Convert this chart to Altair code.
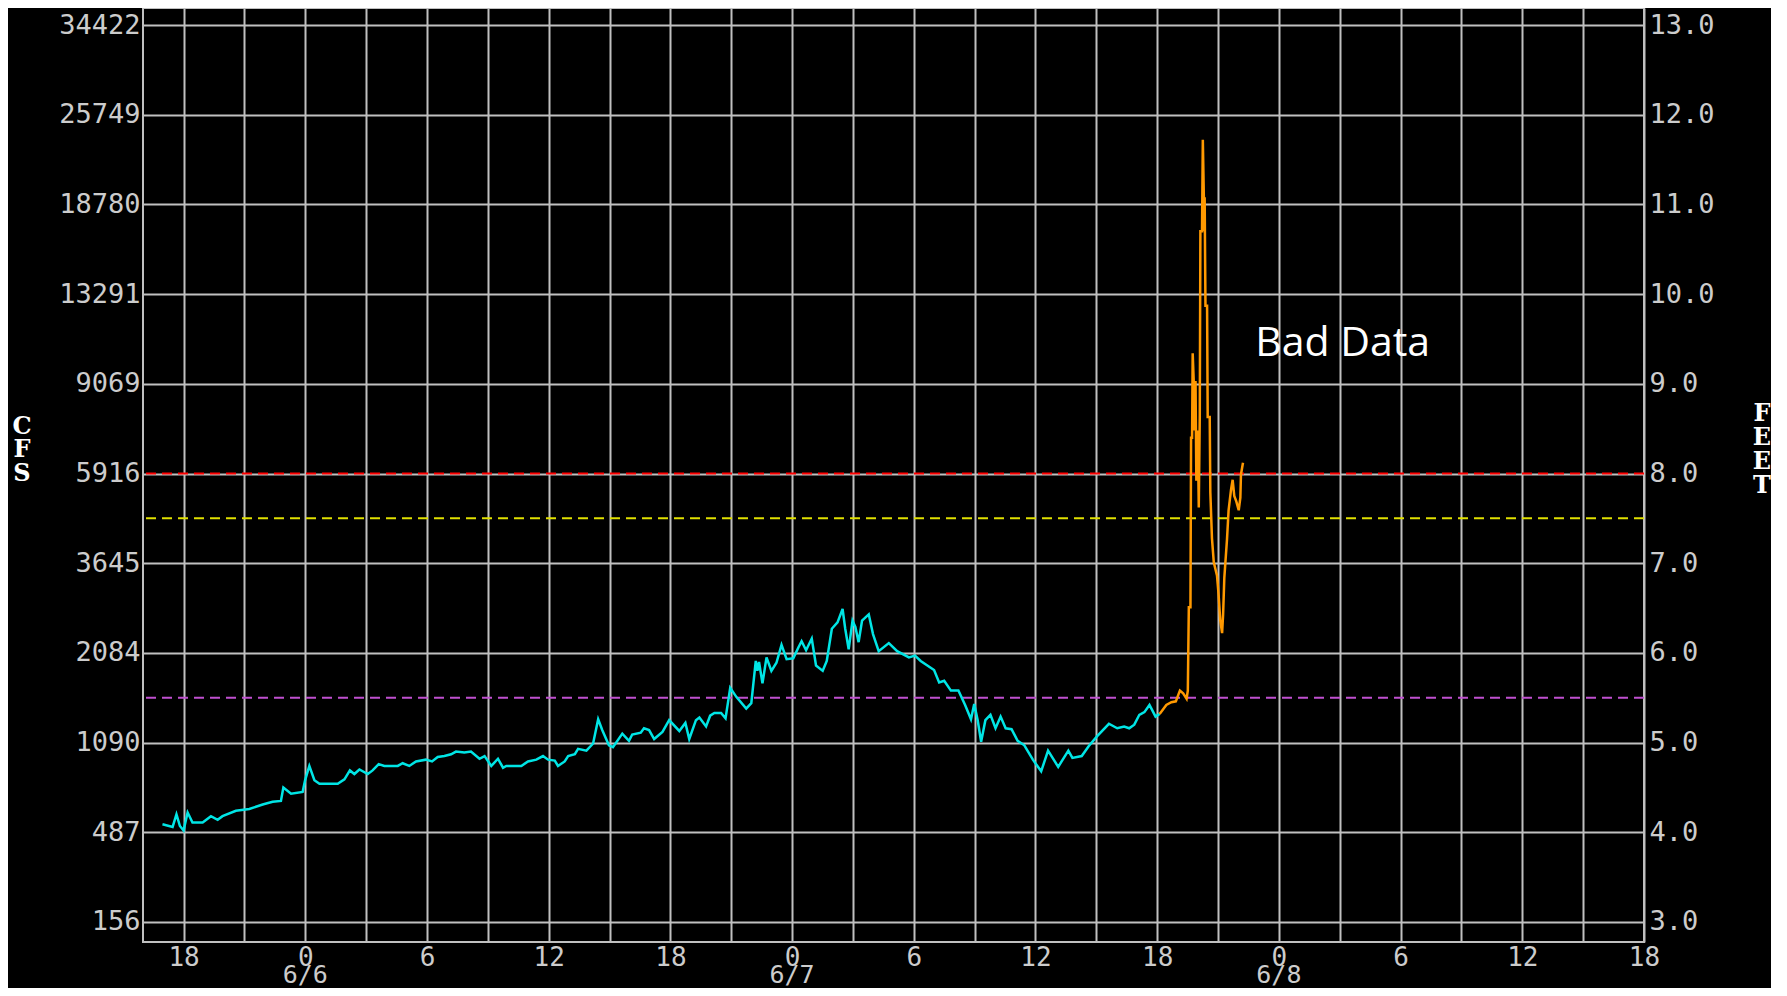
import altair as alt
import pandas as pd

# ---- data (hours since 6/5 00:00, stage in feet) ----
obs_hours = [16.96, 17.46, 17.65, 17.82, 18.0, 18.2, 18.44, 18.94, 19.35, 19.68, 19.92, 20.58,
             21.24, 21.9, 22.39, 22.8, 22.92, 23.3, 23.87, 23.99, 24.2, 24.45, 24.7, 25.6,
             25.93, 26.2, 26.42, 26.67, 27.08, 27.32, 27.62, 27.9, 28.56, 28.8, 29.13, 29.46,
             29.95, 30.25, 30.53, 30.86, 31.19, 31.43, 31.84, 32.17, 32.59, 32.84, 33.17, 33.5,
             33.75, 33.91, 34.65, 34.98, 35.39, 35.72, 35.97, 36.3, 36.46, 36.79, 36.96, 37.29,
             37.45, 37.86, 38.19, 38.44, 38.64, 38.97, 39.17, 39.63, 39.96, 40.12, 40.54, 40.7,
             40.95, 41.2, 41.61, 41.94, 42.44, 42.74, 42.93, 43.26, 43.43, 43.76, 43.96, 44.17,
             44.5, 44.72, 44.95, 45.25, 45.74, 45.99, 46.21, 46.29, 46.37, 46.54, 46.74, 46.98,
             47.23, 47.48, 47.73, 48.06, 48.31, 48.47, 48.69, 48.97, 49.18, 49.51, 49.71, 49.96,
             50.24, 50.49, 50.62, 50.79, 50.98, 51.12, 51.28, 51.45, 51.78, 51.99, 52.27, 52.77,
             53.18, 53.76, 54.06, 54.34, 55.0, 55.25, 55.5, 55.83, 56.2, 56.53, 56.82, 56.98,
             57.15, 57.32, 57.53, 57.78, 58.03, 58.28, 58.53, 58.82, 59.12, 59.45, 59.87, 60.28,
             60.62, 61.12, 61.62, 61.82, 62.28, 62.62, 63.03, 63.62, 64.03, 64.37, 64.62, 64.87,
             65.12, 65.37, 65.62, 65.92, 66.12]
obs_feet = [4.09, 4.06, 4.20, 4.07, 4.02, 4.22, 4.11, 4.11, 4.18, 4.14, 4.18, 4.24,
            4.26, 4.31, 4.34, 4.35, 4.50, 4.43, 4.45, 4.58, 4.74, 4.58, 4.54, 4.54,
            4.59, 4.69, 4.65, 4.70, 4.65, 4.69, 4.76, 4.74, 4.74, 4.77, 4.74, 4.79,
            4.81, 4.79, 4.84, 4.85, 4.87, 4.90, 4.89, 4.90, 4.82, 4.85, 4.74, 4.82,
            4.72, 4.74, 4.74, 4.79, 4.81, 4.85, 4.81, 4.80, 4.74, 4.79, 4.85, 4.87,
            4.93, 4.91, 4.99, 5.26, 5.14, 4.97, 4.95, 5.10, 5.02, 5.09, 5.11, 5.16,
            5.14, 5.04, 5.12, 5.25, 5.13, 5.22, 5.04, 5.25, 5.28, 5.18, 5.30, 5.33,
            5.33, 5.27, 5.61, 5.51, 5.38, 5.44, 5.91, 5.80, 5.90, 5.66, 5.95, 5.80,
            5.89, 6.09, 5.93, 5.94, 6.06, 6.13, 6.03, 6.16, 5.86, 5.80, 5.91, 6.27,
            6.34, 6.49, 6.27, 6.04, 6.36, 6.29, 6.12, 6.36, 6.43, 6.21, 6.02, 6.11,
            6.02, 5.95, 5.97, 5.91, 5.81, 5.67, 5.69, 5.58, 5.58, 5.42, 5.26, 5.43,
            5.25, 5.01, 5.25, 5.31, 5.16, 5.29, 5.16, 5.15, 5.02, 4.97, 4.81, 4.68,
            4.91, 4.73, 4.91, 4.83, 4.85, 4.96, 5.07, 5.21, 5.16, 5.18, 5.16, 5.20,
            5.31, 5.34, 5.42, 5.29, 5.32]

bad_hours = [66.12, 66.45, 66.7, 66.92, 67.12, 67.28, 67.45, 67.51, 67.56, 67.64, 67.67, 67.72,
             67.75, 67.8, 67.84, 67.89, 67.93, 68.0, 68.05, 68.1, 68.13, 68.21, 68.25, 68.3,
             68.33, 68.34, 68.38, 68.46, 68.49, 68.59, 68.62, 68.7, 68.79, 68.95, 69.03, 69.11,
             69.2, 69.25, 69.31, 69.44, 69.52, 69.64, 69.72, 69.8, 69.9, 70.02, 70.1, 70.13, 70.23]
bad_feet = [5.32, 5.42, 5.45, 5.46, 5.58, 5.55, 5.49, 5.58, 6.51, 6.51, 8.40, 8.40,
            9.34, 9.04, 8.48, 9.03, 7.92, 8.48, 7.62, 8.65, 10.70, 10.70, 11.72, 11.08,
            10.70, 11.08, 9.87, 9.87, 8.63, 8.63, 7.79, 7.28, 7.01, 6.86, 6.64, 6.36,
            6.22, 6.43, 6.84, 7.26, 7.59, 7.82, 7.93, 7.75, 7.69, 7.59, 7.73, 7.99, 8.12]

feet_ticks = [3, 4, 5, 6, 7, 8, 9, 10, 11, 12, 13]
cfs_labels = ["156", "487", "1090", "2084", "3645", "5916", "9069", "13291", "18780", "25749", "34422"]
hour_ticks = list(range(18, 91, 3))
date_hours = [24, 48, 72]
date_labels = ["6/6", "6/7", "6/8"]

thresholds_feet = [8.0, 7.5, 5.5]
threshold_colors = ["#FF0000", "#E0E000", "#C050D0"]

annotation_text = ["Bad Data"]
annotation_hour = [70.83]
annotation_feet = [9.31]

# ---- layout constants ----
W, H = 1501, 934
Y_DOMAIN = [2.777, 13.19]
X_DOMAIN = [16, 90]
GRID = "#C0C0C0"
LABEL = "#CCCCCC"
MONO = "DejaVu Sans Mono"

obs_df = pd.DataFrame({"hour": obs_hours, "feet": obs_feet})
bad_df = pd.DataFrame({"hour": bad_hours, "feet": bad_feet})
thr_df = pd.DataFrame({"feet": thresholds_feet, "color": threshold_colors})
ann_df = pd.DataFrame({"hour": annotation_hour, "feet": annotation_feet, "text": annotation_text})
date_df = pd.DataFrame({"hour": date_hours, "label": date_labels})

cfs_array = "[" + ",".join("'" + s + "'" for s in cfs_labels) + "]"

x_scale = alt.Scale(domain=X_DOMAIN, nice=False, zero=False)
y_scale = alt.Scale(domain=Y_DOMAIN, nice=False, zero=False)

x_axis = alt.Axis(
    values=hour_ticks, grid=True, gridColor=GRID, gridWidth=2, gridOpacity=1,
    ticks=False, domain=False, title=None,
    labelExpr="datum.value % 6 != 0 ? '' : '' + (datum.value % 24)",
    labelFont=MONO, labelFontSize=26, labelColor=LABEL, labelPadding=2,
    labelBaseline="top", labelOverlap=False, labelFlush=False, labelBound=False,
)

y_axis_left = alt.Axis(
    values=feet_ticks, grid=True, gridColor=GRID, gridWidth=2, gridOpacity=1,
    ticks=False, domain=False, title=None,
    labelExpr=cfs_array + "[round(datum.value) - 3]",
    labelFont=MONO, labelFontSize=27, labelColor=LABEL, labelPadding=3,
    labelBaseline="middle", labelOverlap=False, labelBound=False, labelFlush=False,
)

y_axis_right = alt.Axis(
    orient="right", values=feet_ticks, grid=False, ticks=False, domain=False, title=None,
    format=".1f",
    labelFont=MONO, labelFontSize=27, labelColor=LABEL, labelPadding=5,
    labelBaseline="middle", labelOverlap=False, labelBound=False, labelFlush=False,
)

base_left = alt.Chart(obs_df).mark_line(color="#00E5E5", strokeWidth=2.5).encode(
    x=alt.X("hour:Q", scale=x_scale, axis=x_axis),
    y=alt.Y("feet:Q", scale=y_scale, axis=y_axis_left),
)

thr = alt.Chart(thr_df).mark_rule(strokeWidth=2, strokeDash=[10, 6]).encode(
    y=alt.Y("feet:Q", scale=y_scale, axis=y_axis_left),
    color=alt.Color("color:N", scale=None, legend=None),
)

bad = alt.Chart(bad_df).mark_line(color="#FF9900", strokeWidth=2.5).encode(
    x=alt.X("hour:Q", scale=x_scale, axis=x_axis),
    y=alt.Y("feet:Q", scale=y_scale, axis=y_axis_left),
)

ann = alt.Chart(ann_df).mark_text(
    font="Open Sans", fontSize=41, color="white", align="left", baseline="alphabetic"
).encode(
    x=alt.X("hour:Q", scale=x_scale, axis=x_axis),
    y=alt.Y("feet:Q", scale=y_scale, axis=y_axis_left),
    text="text:N",
)

dates = alt.Chart(date_df).mark_text(
    font=MONO, fontSize=25, color=LABEL, align="center", baseline="bottom"
).encode(
    x=alt.X("hour:Q", scale=x_scale, axis=x_axis),
    y=alt.value(H + 46),
    text="label:N",
)

cfs_title = alt.Chart(pd.DataFrame({"t": ["C\nF\nS"]})).mark_text(
    font="DejaVu Serif", fontWeight="bold", fontSize=24, color="white",
    lineBreak="\n", lineHeight=23.5, align="center", baseline="middle",
).encode(x=alt.value(-121), y=alt.value(418.5), text="t:N")

feet_title = alt.Chart(pd.DataFrame({"t": ["F\nE\nE\nT"]})).mark_text(
    font="DejaVu Serif", fontWeight="bold", fontSize=24, color="white",
    lineBreak="\n", lineHeight=24, align="center", baseline="middle",
).encode(x=alt.value(1619), y=alt.value(405.5), text="t:N")

left_layer = alt.layer(thr, base_left, bad, ann, dates, cfs_title, feet_title)

right_layer = alt.Chart(obs_df).mark_point(opacity=0).encode(
    x=alt.X("hour:Q", scale=x_scale, axis=x_axis),
    y=alt.Y("feet:Q", scale=y_scale, axis=y_axis_right),
)

chart = alt.layer(left_layer, right_layer).resolve_scale(y="independent").properties(
    width=W, height=H,
    background="black",
    padding={"left": 135, "top": 0, "right": 127, "bottom": 46},
    autosize=alt.AutoSizeParams(type="none"),
).configure_view(stroke=GRID, strokeWidth=2)

chart.save("out.html", embed_options={"renderer": "svg", "actions": False})
